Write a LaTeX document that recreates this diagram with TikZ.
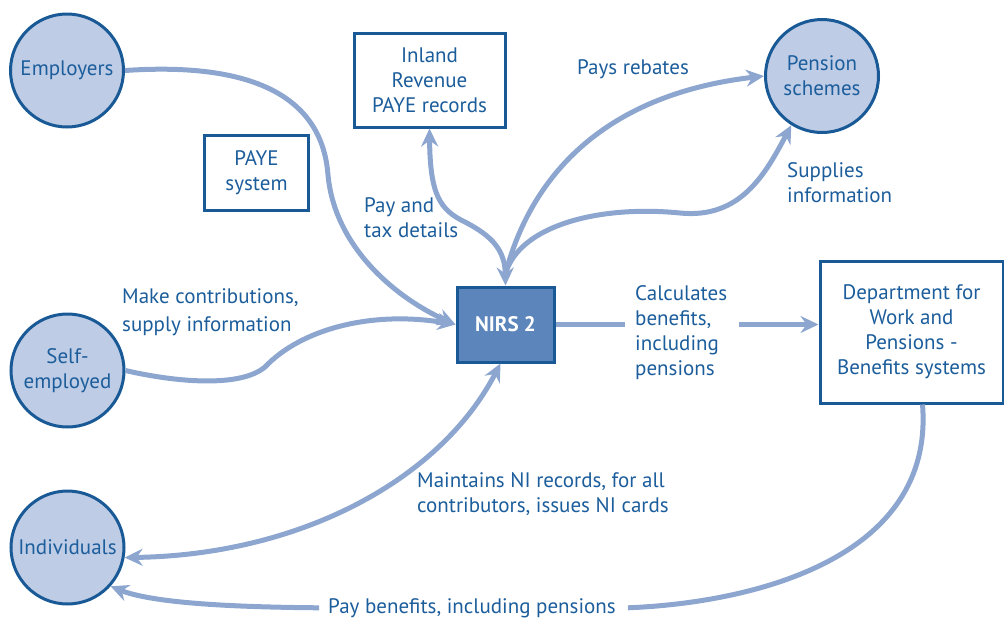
\documentclass[tikz,border=0pt]{standalone}
\usepackage{fontspec}
\setmainfont{PT Sans}
\usetikzlibrary{arrows.meta}
\definecolor{tblue}{RGB}{28,93,155}
\definecolor{dblue}{RGB}{25,90,150}
\definecolor{cfill}{RGB}{190,204,230}
\definecolor{acol}{RGB}{141,166,208}
\definecolor{nfill}{RGB}{92,133,187}
\begin{document}
\begin{tikzpicture}[x=1pt,y=-1pt,
  every node/.style={text=tblue, font=\fontsize{21}{25}\selectfont},
  ent/.style={circle, draw=dblue, line width=3pt, fill=cfill, minimum size=113pt, inner sep=0pt, align=center},
  sysbox/.style={rectangle, draw=dblue, line width=3pt, fill=white, inner sep=0pt, align=center},
  lbl/.style={inner sep=0pt, align=left},
  flow/.style={draw=acol, line width=5pt},
  arr/.style={-{Stealth[length=18pt,width=17pt,inset=6pt]}},
  arrboth/.style={{Stealth[length=18pt,width=17pt,inset=6pt]}-{Stealth[length=18pt,width=17pt,inset=6pt]}}
]
\useasboundingbox (0,0) rectangle (1004,619);

% entities
\node[ent] (emp) at (67,70.5) {Employers};
\node[ent] (self) at (67.5,370.5) {Self-\\employed};
\node[ent] (ind) at (67.5,547.5) {Individuals};
\node[ent] (pen) at (822,76) {Pension\\schemes};

% systems
\node[sysbox, minimum width=151pt, minimum height=94pt] (ir) at (429.5,80) {Inland\\Revenue\\PAYE records};
\node[sysbox, minimum width=104pt, minimum height=75pt] (paye) at (256.5,172.5) {PAYE\\system};
\node[sysbox, minimum width=97pt, minimum height=75pt, fill=nfill, text=white, font=\fontsize{21}{25}\selectfont\bfseries] (nirs) at (505.5,324.5) {NIRS 2};
\node[sysbox, minimum width=183pt, minimum height=142pt] (dept) at (911.5,332) {Department for\\Work and\\Pensions -\\Benefits systems};

% labels
\node[lbl, anchor=north west, font=\fontsize{21}{28}\selectfont] (make) at (122,288) {Make contributions,\\supply information};
\node[lbl, anchor=north west] (paytax) at (364,197) {Pay and\\tax details};
\node[lbl, anchor=base west] (rebates) at (577,74) {Pays rebates};
\node[lbl, anchor=north west] (supp) at (787,162) {Supplies\\information};
\node[lbl, anchor=north west] (calc) at (635,285) {Calculates\\benefits,\\including\\pensions};
\node[lbl, anchor=north west] (maint) at (417,472) {Maintains NI records, for all\\contributors, issues NI cards};
\node[lbl, anchor=base] (pay) at (472,613) {Pay benefits, including pensions};

% connectors
\draw[flow, arr] (emp.east) .. controls (250,62) and (322,95) .. (328,175) .. controls (335,250) and (400,300) .. (nirs.west);
\draw[flow, arr] (self.east) .. controls (175,382) and (240,388) .. (265,367) .. controls (300,330) and (370,310) .. (nirs.west);
\draw[flow, arrboth] (ir.south) .. controls (430,195) and (440,210) .. (465,222) .. controls (492,236) and (505,250) .. (nirs.north);
\draw[flow, arr] ([yshift=12pt]nirs.north) .. controls (530,180) and (600,95) .. (pen.west);
\draw[flow, arr] ([yshift=12pt]nirs.north) .. controls (520,225) and (600,205) .. (680,213) .. controls (740,219) and (765,175) .. (pen.-122);
\draw[flow, arrboth] ([xshift=-5pt]nirs.south) .. controls (440,480) and (300,555) .. (ind.-10);
\draw[flow] (nirs.east) -- ([xshift=-10pt]calc.west |- nirs.east);
\draw[flow, arr] ([xshift=12pt]calc.east |- nirs.east) -- (dept.west |- nirs.east);
\draw[flow] ([xshift=11pt]dept.south) .. controls (935,560) and (750,603) .. ([xshift=12pt]pay.east);
\draw[flow, arr] ([xshift=-9pt]pay.west) .. controls (220,607) and (150,602) .. (ind.-42);
\end{tikzpicture}
\end{document}
